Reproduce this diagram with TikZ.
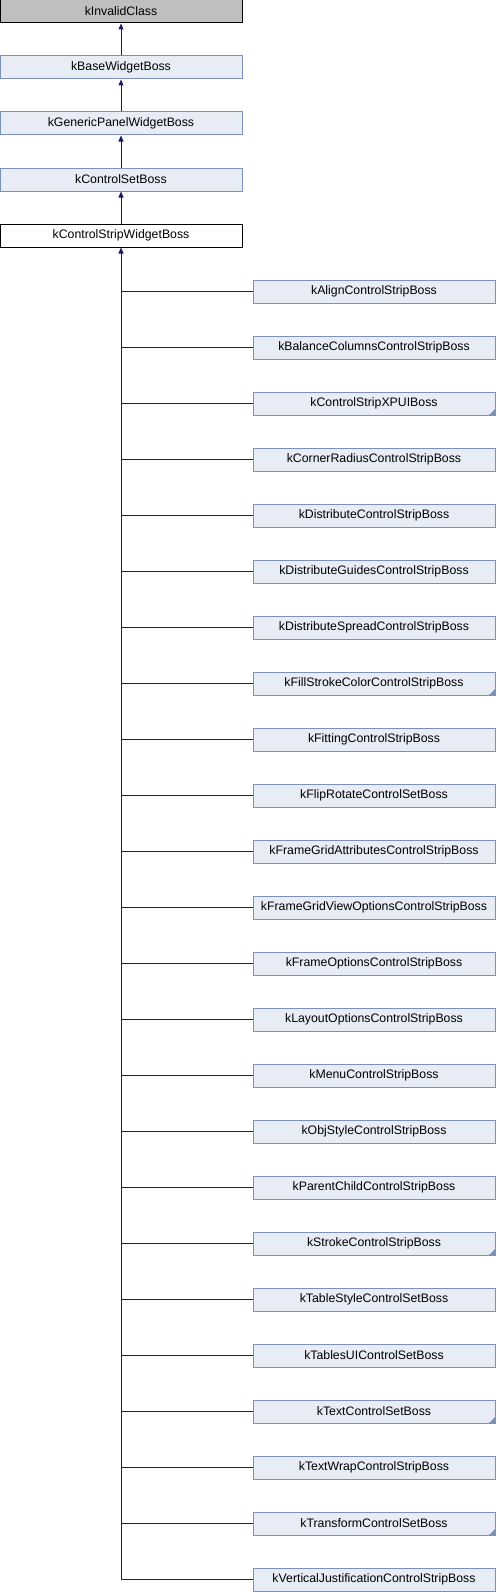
\documentclass[tikz,border=0pt]{standalone}
\usepackage{fontspec}
\setmainfont{Liberation Sans}
\usetikzlibrary{arrows.meta}
\definecolor{boxfill}{HTML}{E8ECF5}
\definecolor{boxline}{HTML}{7B90BA}
\definecolor{edgeblue}{HTML}{191970}
\begin{document}
\begin{tikzpicture}[x=1pt,y=-1pt,font=\fontsize{12.3}{14}\selectfont,
  cls/.style={rectangle,draw=boxline,fill=boxfill,line width=1pt,minimum width=242pt,minimum height=23pt,inner sep=0pt},
  rootcls/.style={cls,draw=black,fill=black!25},
  thiscls/.style={cls,draw=black,fill=white},
  morecls/.style={cls,path picture={\fill[boxline] (path picture bounding box.south east) -- ++(-6pt,0) -- ++(6pt,6pt) -- cycle;}},
  inh/.style={draw=edgeblue,line width=1pt,-{Triangle[length=6pt,width=5pt]}}]
\useasboundingbox (0,0) rectangle (496,1592);
% base classes
\node[rootcls] (invalid) at (121,11.5) {kInvalidClass};
\node[cls] (basewidget) at (121,67.5) {kBaseWidgetBoss};
\node[cls] (genpanel) at (121,123.5) {kGenericPanelWidgetBoss};
\node[cls] (ctrlset) at (121,179.5) {kControlSetBoss};
\node[thiscls] (stripwidget) at (121,235.5) {kControlStripWidgetBoss};
\draw[inh] (basewidget) -- (invalid); \draw[inh] (genpanel) -- (basewidget);
\draw[inh] (ctrlset) -- (genpanel); \draw[inh] (stripwidget) -- (ctrlset);
% derived strip bosses
\node[cls] (align) at (374,291.5) {kAlignControlStripBoss};
\node[cls] (balance) at (374,347.5) {kBalanceColumnsControlStripBoss};
\node[morecls] (xpui) at (374,403.5) {kControlStripXPUIBoss};
\node[cls] (corner) at (374,459.5) {kCornerRadiusControlStripBoss};
\node[cls] (distrib) at (374,515.5) {kDistributeControlStripBoss};
\node[cls] (distguides) at (374,571.5) {kDistributeGuidesControlStripBoss};
\node[cls] (distspread) at (374,627.5) {kDistributeSpreadControlStripBoss};
\node[morecls] (fillstroke) at (374,683.5) {kFillStrokeColorControlStripBoss};
\node[cls] (fitting) at (374,739.5) {kFittingControlStripBoss};
\node[cls] (fliprot) at (374,795.5) {kFlipRotateControlSetBoss};
\node[cls] (gridattr) at (374,851.5) {kFrameGridAttributesControlStripBoss};
\node[cls] (gridview) at (374,907.5) {kFrameGridViewOptionsControlStripBoss};
\node[cls] (frameopt) at (374,963.5) {kFrameOptionsControlStripBoss};
\node[cls] (layoutopt) at (374,1019.5) {kLayoutOptionsControlStripBoss};
\node[cls] (menu) at (374,1075.5) {kMenuControlStripBoss};
\node[cls] (objstyle) at (374,1131.5) {kObjStyleControlStripBoss};
\node[cls] (parentchild) at (374,1187.5) {kParentChildControlStripBoss};
\node[morecls] (stroke) at (374,1243.5) {kStrokeControlStripBoss};
\node[cls] (tablestyle) at (374,1299.5) {kTableStyleControlSetBoss};
\node[cls] (tablesui) at (374,1355.5) {kTablesUIControlSetBoss};
\node[morecls] (textctrl) at (374,1411.5) {kTextControlSetBoss};
\node[cls] (textwrap) at (374,1467.5) {kTextWrapControlStripBoss};
\node[morecls] (transform) at (374,1523.5) {kTransformControlSetBoss};
\node[cls] (vertjust) at (374,1579.5) {kVerticalJustificationControlStripBoss};
% one trunk, branches to each child
\draw[inh] (vertjust.west) -| (stripwidget.south);
\draw[edgeblue,line width=1pt] (align.west) -- ++(-132,0); \draw[edgeblue,line width=1pt] (balance.west) -- ++(-132,0);
\draw[edgeblue,line width=1pt] (xpui.west) -- ++(-132,0); \draw[edgeblue,line width=1pt] (corner.west) -- ++(-132,0);
\draw[edgeblue,line width=1pt] (distrib.west) -- ++(-132,0); \draw[edgeblue,line width=1pt] (distguides.west) -- ++(-132,0);
\draw[edgeblue,line width=1pt] (distspread.west) -- ++(-132,0); \draw[edgeblue,line width=1pt] (fillstroke.west) -- ++(-132,0);
\draw[edgeblue,line width=1pt] (fitting.west) -- ++(-132,0); \draw[edgeblue,line width=1pt] (fliprot.west) -- ++(-132,0);
\draw[edgeblue,line width=1pt] (gridattr.west) -- ++(-132,0); \draw[edgeblue,line width=1pt] (gridview.west) -- ++(-132,0);
\draw[edgeblue,line width=1pt] (frameopt.west) -- ++(-132,0); \draw[edgeblue,line width=1pt] (layoutopt.west) -- ++(-132,0);
\draw[edgeblue,line width=1pt] (menu.west) -- ++(-132,0); \draw[edgeblue,line width=1pt] (objstyle.west) -- ++(-132,0);
\draw[edgeblue,line width=1pt] (parentchild.west) -- ++(-132,0); \draw[edgeblue,line width=1pt] (stroke.west) -- ++(-132,0);
\draw[edgeblue,line width=1pt] (tablestyle.west) -- ++(-132,0); \draw[edgeblue,line width=1pt] (tablesui.west) -- ++(-132,0);
\draw[edgeblue,line width=1pt] (textctrl.west) -- ++(-132,0); \draw[edgeblue,line width=1pt] (textwrap.west) -- ++(-132,0);
\draw[edgeblue,line width=1pt] (transform.west) -- ++(-132,0);
\end{tikzpicture}
\end{document}
